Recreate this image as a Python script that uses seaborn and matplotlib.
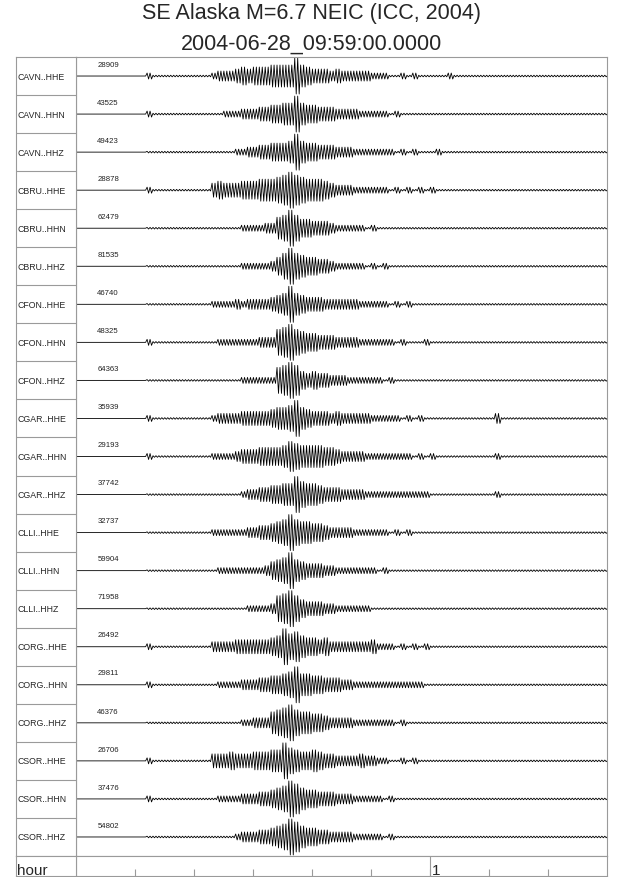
import matplotlib
matplotlib.use("Agg")
import matplotlib.pyplot as plt
import numpy as np
import pandas as pd
import seaborn as sns

# ---------------- data ----------------
TITLE = "SE Alaska M=6.7 NEIC (ICC, 2004)"
SUBTITLE = "2004-06-28_09:59:00.0000"
X_LABEL = "hour"
HOUR_LABEL = "1"
HOUR_MINUTE = 60
TICK_MINUTES = [10, 20, 30, 40, 50, 60, 70, 80]
X_MAX_MINUTES = 90

STATIONS = ["CAVN..HHE", "CAVN..HHN", "CAVN..HHZ",
            "CBRU..HHE", "CBRU..HHN", "CBRU..HHZ",
            "CFON..HHE", "CFON..HHN", "CFON..HHZ",
            "CGAR..HHE", "CGAR..HHN", "CGAR..HHZ",
            "CLLI..HHE", "CLLI..HHN", "CLLI..HHZ",
            "CORG..HHE", "CORG..HHN", "CORG..HHZ",
            "CSOR..HHE", "CSOR..HHN", "CSOR..HHZ"]
PEAKS = ["28909", "43525", "49423", "28878", "62479", "81535", "46740",
         "48325", "64363", "35939", "29193", "37742", "32737", "59904",
         "71958", "26492", "29811", "46376", "26706", "37476", "54802"]

# envelope amplitude code (0-9) per minute
CAVN_HHE = ("000000000000" "2" "1111111111" "23334545556666" "9" "654443433333"
            "22211212111112" "1111111111" "1111111111" "111111")
CAVN_HHN = ("000000000000" "2" "1111111111" "11222" "33344" "5566" "9" "655" "444"
            "333322" "22212111" "1111111111" "1111111111" "1111111111" "11")
CAVN_HHZ = ("000000000000" "1" "11111111111111" "2233" "445556" "9" "655" "444333"
            "222222" "21212111211111" "1111111111" "1111111111" "111")
CBRU_HHE = ("000000000000" "2" "1111111111" "45444555" "6667" "898" "76" "665"
            "433322" "222212121212111" "1111111111" "1111111111" "111111")
CBRU_HHN = ("000000000000" "1" "111111111111111" "222233" "67" "9" "755" "444"
            "32222" "21211111" "1111111111" "1111111111" "1111111111" "1111")
CBRU_HHZ = ("000000000000" "1" "111111111111111" "222223" "57" "9" "765" "544"
            "32222" "21212111" "1111111111" "1111111111" "1111111111" "1111")
CFON_HHE = ("000000000000" "1" "1111111111" "2222323333" "456" "9" "6544" "433333"
            "32222" "2121211111111" "1111111111" "1111111111" "11111")
CFON_HHN = ("000000000000" "2" "11111111111" "2222222333" "78" "9" "76" "5544"
            "4333322222" "212111211111" "1111111111" "1111111111" "11111")
CFON_HHZ = ("000000000000" "1" "111111111111111" "222222" "78" "9" "85" "4544"
            "33322222" "2121111111" "1111111111" "1111111111" "111111111")
CGAR_HHE = ("000000000000" "2" "1111111111" "2333344444" "5667" "9" "654" "443433"
            "33322" "2221212111111111111" "3" "1111111111" "11111111")
CGAR_HHN = ("000000000000" "2" "1111111111" "22223" "44455" "556" "8" "766665" "5433"
            "332222222" "212121111111111" "2" "1111111111" "11111111")
CGAR_HHZ = ("000000000000" "1" "111111111111111" "23344" "5566" "9" "7665" "4443333"
            "2222222222" "211111111111" "2" "1111111111" "11111111")
CLLI_HHE = ("000000000000" "1" "1111111111" "222222" "3344" "567" "9" "76655"
            "4333322" "222212121111" "1111111111" "1111111111" "111111111")
CLLI_HHN = ("000000000000" "1" "11111111111" "222222223" "567" "9" "654" "443"
            "3222222" "21211111111" "1111111111" "1111111111" "111111111")
CLLI_HHZ = ("000000000000" "1" "1111111111111111" "22223" "78" "9" "754" "443"
            "3222222" "11111111111" "1111111111" "1111111111" "111111111")
CORG_HHE = ("000000000000" "2" "1111111111" "3333444444" "56" "9" "7" "8" "65545"
            "3333333" "4" "22212121211111" "1111111111" "1111111111" "11111")
CORG_HHN = ("000000000000" "2" "1111111111" "12222" "33344" "5567" "9" "6655444"
            "33222222222222" "1111111111" "1111111111" "1111111111" "1")
CORG_HHZ = ("000000000000" "1" "111111111111111" "22333" "678" "9" "76655"
            "43333222222" "21211111111" "1111111111" "1111111111" "111111")
CSOR_HHE = ("000000000000" "2" "1111111111" "4445444555" "66" "9" "765565" "443333"
            "4" "33" "22112121111111" "1111111111" "1111111111" "11111")
CSOR_HHN = ("000000000000" "2" "1111111111" "12222" "33344" "567" "9" "86" "55444"
            "3332222" "212111111111" "1111111111" "1111111111" "1111111")
CSOR_HHZ = ("000000000000" "1" "11111111111111" "233344" "567" "9" "86" "5544"
            "33332222" "212111111111" "1111111111" "1111111111" "1111111")

ENVELOPES = [CAVN_HHE, CAVN_HHN, CAVN_HHZ, CBRU_HHE, CBRU_HHN, CBRU_HHZ,
             CFON_HHE, CFON_HHN, CFON_HHZ, CGAR_HHE, CGAR_HHN, CGAR_HHZ,
             CLLI_HHE, CLLI_HHN, CLLI_HHZ, CORG_HHE, CORG_HHN, CORG_HHZ,
             CSOR_HHE, CSOR_HHN, CSOR_HHZ]

# ---------------- style ----------------
AMP_PX = [0, 0.8, 3, 5, 7, 9, 11, 13, 15, 18]   # pixel half-amplitude for each code
ROW_PX = 38.05
GRAY = "#9a9a9a"
W, H = 640, 878

sns.set_style("white")
plt.rcParams["font.family"] = ["Liberation Sans", "DejaVu Sans"]

# build long table of zig-zag trace points (two swings per minute bin)
recs = []
for k, (name, env) in enumerate(zip(STATIONS, ENVELOPES)):
    recs.append((name, 0.0, float(k)))
    for i, ch in enumerate(env):
        a = AMP_PX[int(ch)] / ROW_PX
        for j, s in enumerate((1, -1, 1, -1)):
            recs.append((name, i + (j + 0.5) / 4.0, k - s * a))
    recs.append((name, float(X_MAX_MINUTES), float(k)))
df = pd.DataFrame(recs, columns=["station", "minute", "y"])

fig = plt.figure(figsize=(W / 100, H / 100), dpi=100)

def fax(x0, y0, x1, y1):
    return fig.add_axes([x0 / W, 1 - y1 / H, (x1 - x0) / W, (y1 - y0) / H])

X_LEFT, X_COL, X_RIGHT = 16, 75.5, 607
Y_TOP, Y_BOT, Y_END = 58, 857, 877
nrow = len(STATIONS)

# trace panel
ax = fax(X_COL, Y_TOP, X_RIGHT, Y_BOT)
sns.lineplot(data=df, x="minute", y="y", units="station", estimator=None,
             sort=False, color="black", lw=0.6, ax=ax, legend=False)
ax.set_xlim(0, X_MAX_MINUTES)
ax.set_ylim(nrow - 0.5, -0.5)
ax.set_xticks([]); ax.set_yticks([])
ax.set_xlabel(""); ax.set_ylabel("")
for k, p in enumerate(PEAKS):
    ax.text(3.7, k - 0.31, p, fontsize=5.6, va="center", ha="left", color="#222222")

# label column
axl = fax(X_LEFT, Y_TOP, X_COL, Y_BOT)
axl.set_xlim(0, 1)
axl.set_ylim(nrow - 0.5, -0.5)
axl.set_xticks([]); axl.set_yticks([])
for k in range(1, nrow):
    axl.axhline(k - 0.5, color=GRAY, lw=0.8)
for k, name in enumerate(STATIONS):
    axl.text(0.02, k, name, fontsize=6.3, va="center", ha="left")

# hour row
axh = fax(X_COL, Y_BOT, X_RIGHT, Y_END)
axh.set_xlim(0, X_MAX_MINUTES)
axh.set_ylim(0, 1)
axh.set_yticks([])
axh.set_xticks(TICK_MINUTES)
axh.tick_params(axis="x", direction="in", length=5, width=0.8, color=GRAY,
                labelbottom=False, bottom=True)
axh.axvline(HOUR_MINUTE, color=GRAY, lw=0.8)
axh.text(HOUR_MINUTE + 0.3, 0.12, HOUR_LABEL, fontsize=11, va="baseline", ha="left")

axhl = fax(X_LEFT, Y_BOT, X_COL, Y_END)
axhl.set_xlim(0, 1); axhl.set_ylim(0, 1)
axhl.set_xticks([]); axhl.set_yticks([])
axhl.text(0.02, 0.12, X_LABEL, fontsize=11, va="baseline", ha="left")

for a in (ax, axl, axh, axhl):
    for sp in a.spines.values():
        sp.set_color(GRAY)
        sp.set_linewidth(0.8)
        sp.set_visible(True)

fig.text(312 / W, 1 - 18.5 / H, TITLE, fontsize=15.5, ha="center", va="baseline")
fig.text(312 / W, 1 - 49.5 / H, SUBTITLE, fontsize=15.5, ha="center", va="baseline")

fig.savefig("out.png", dpi=100)
